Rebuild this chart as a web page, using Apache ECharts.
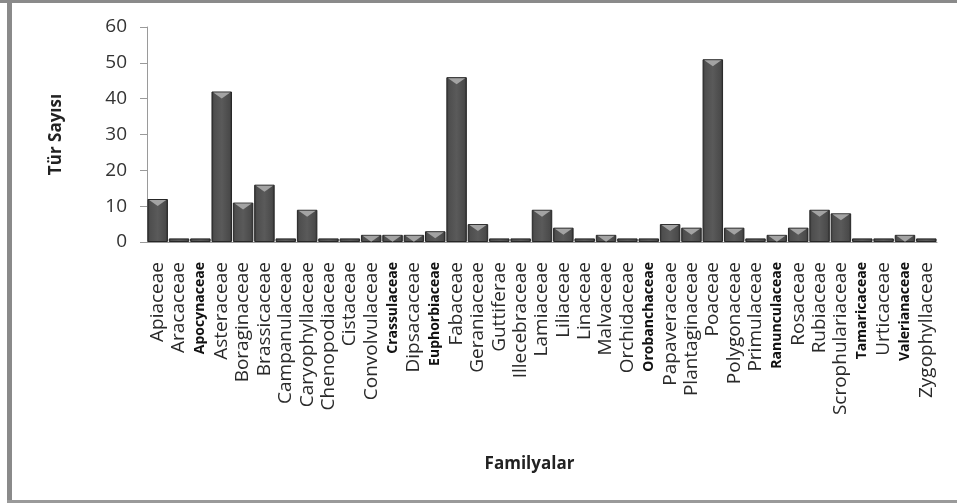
<!DOCTYPE html>
<html>
<head>
<meta charset="utf-8">
<script src="https://cdn.jsdelivr.net/npm/echarts@6/dist/echarts.min.js"></script>
<style>
html, body { margin: 0; padding: 0; background: #fff; }
#main { width: 957px; height: 503px; }
</style>
</head>
<body>
<div id="main"></div>
<script>
var families = ['Apiaceae', 'Aracaceae', 'Apocynaceae', 'Asteraceae', 'Boraginaceae', 'Brassicaceae',
    'Campanulaceae', 'Caryophyllaceae', 'Chenopodiaceae', 'Cistaceae', 'Convolvulaceae', 'Crassulaceae',
    'Dipsacaceae', 'Euphorbiaceae', 'Fabaceae', 'Geraniaceae', 'Guttiferae', 'Illecebraceae', 'Lamiaceae',
    'Liliaceae', 'Linaceae', 'Malvaceae', 'Orchidaceae', 'Orobanchaceae', 'Papaveraceae', 'Plantaginaceae',
    'Poaceae', 'Polygonaceae', 'Primulaceae', 'Ranunculaceae', 'Rosaceae', 'Rubiaceae', 'Scrophulariaceae',
    'Tamaricaceae', 'Urticaceae', 'Valerianaceae', 'Zygophyllaceae'];
var turSayisi = [12, 1, 1, 42, 11, 16,
    1, 9, 1, 1, 2, 2,
    2, 3, 46, 5, 1, 1, 9,
    4, 1, 2, 1, 1, 5, 4,
    51, 4, 1, 2, 4, 9, 8,
    1, 1, 2, 1];
var yTicks = [0, 10, 20, 30, 40, 50, 60];
// names that the original renders in a smaller, heavier face
var smallNames = ['Apocynaceae', 'Crassulaceae', 'Euphorbiaceae', 'Orobanchaceae', 'Ranunculaceae', 'Tamaricaceae', 'Valerianaceae'];

// top bevel triangles, only where the bar is tall enough to show one
var bevel = [];
for (var i = 0; i < turSayisi.length; i++) {
    bevel[i] = turSayisi[i] > 1 ? turSayisi[i] : '-';
}

var myChart = echarts.init(document.getElementById('main'));
var option = {
    backgroundColor: '#fff',
    animation: false,
    graphic: [
        { type: 'rect', shape: { x: 0, y: 0, width: 957, height: 3 }, style: { fill: '#8a8a8a' } },
        { type: 'rect', shape: { x: 7, y: 0, width: 5, height: 503 }, style: { fill: '#8a8a8a' } },
        { type: 'rect', shape: { x: 7, y: 500, width: 950, height: 3 }, style: { fill: '#9a9a9a' } }
    ],
    grid: {
        left: 147,
        right: 20,
        top: 27,
        bottom: 261
    },
    xAxis: {
        type: 'category',
        data: families,
        name: 'Familyalar',
        nameLocation: 'middle',
        nameGap: 214,
        nameTextStyle: {
            fontFamily: 'Open Sans',
            fontWeight: 'bold',
            fontSize: 17,
            color: '#222',
            padding: [0, 25, 0, 0]
        },
        axisTick: { show: false },
        axisLine: {
            lineStyle: { color: '#9a9a9a', width: 1 }
        },
        axisLabel: {
            interval: 0,
            rotate: 90,
            margin: 20,
            fontFamily: 'Open Sans',
            fontSize: 19,
            color: '#2a2a2a',
            formatter: function (v) {
                if (smallNames.indexOf(v) >= 0) return '{s|' + v + '}';
                return v;
            },
            rich: {
                s: {
                    fontFamily: 'Open Sans',
                    fontSize: 14,
                    fontWeight: 'bold',
                    color: '#111'
                }
            }
        }
    },
    yAxis: {
        type: 'value',
        min: yTicks[0],
        max: yTicks[yTicks.length - 1],
        interval: 10,
        name: 'Tür Sayısı',
        nameLocation: 'middle',
        nameGap: 82,
        nameTextStyle: {
            fontFamily: 'Open Sans',
            fontWeight: 'bold',
            fontSize: 17,
            color: '#222'
        },
        axisLine: {
            show: true,
            lineStyle: { color: '#9a9a9a' }
        },
        axisTick: {
            show: true,
            length: 7,
            lineStyle: { color: '#9a9a9a' }
        },
        axisLabel: {
            margin: 20,
            fontFamily: 'Open Sans',
            fontSize: 19,
            color: '#333'
        },
        splitLine: { show: false }
    },
    series: [
        {
            name: 'Tür Sayısı',
            type: 'bar',
            data: turSayisi,
            barCategoryGap: '4%',
            barGap: '-100%',
            itemStyle: {
                borderColor: '#262626',
                borderWidth: 1,
                color: new echarts.graphic.LinearGradient(0, 0, 1, 0, [
                    { offset: 0, color: '#333' },
                    { offset: 0.12, color: '#4e4e4e' },
                    { offset: 0.5, color: '#5a5a5a' },
                    { offset: 0.88, color: '#4a4a4a' },
                    { offset: 1, color: '#2e2e2e' }
                ])
            }
        },
        {
            type: 'pictorialBar',
            data: bevel,
            barGap: '-100%',
            symbol: 'path://M0,0 L10,0 L5,3 Z',
            symbolSize: [17, 6],
            symbolPosition: 'end',
            symbolOffset: [0, 1],
            z: 3,
            itemStyle: { color: '#a3a3a3' },
            silent: true
        }
    ]
};
myChart.setOption(option);
</script>
</body>
</html>
